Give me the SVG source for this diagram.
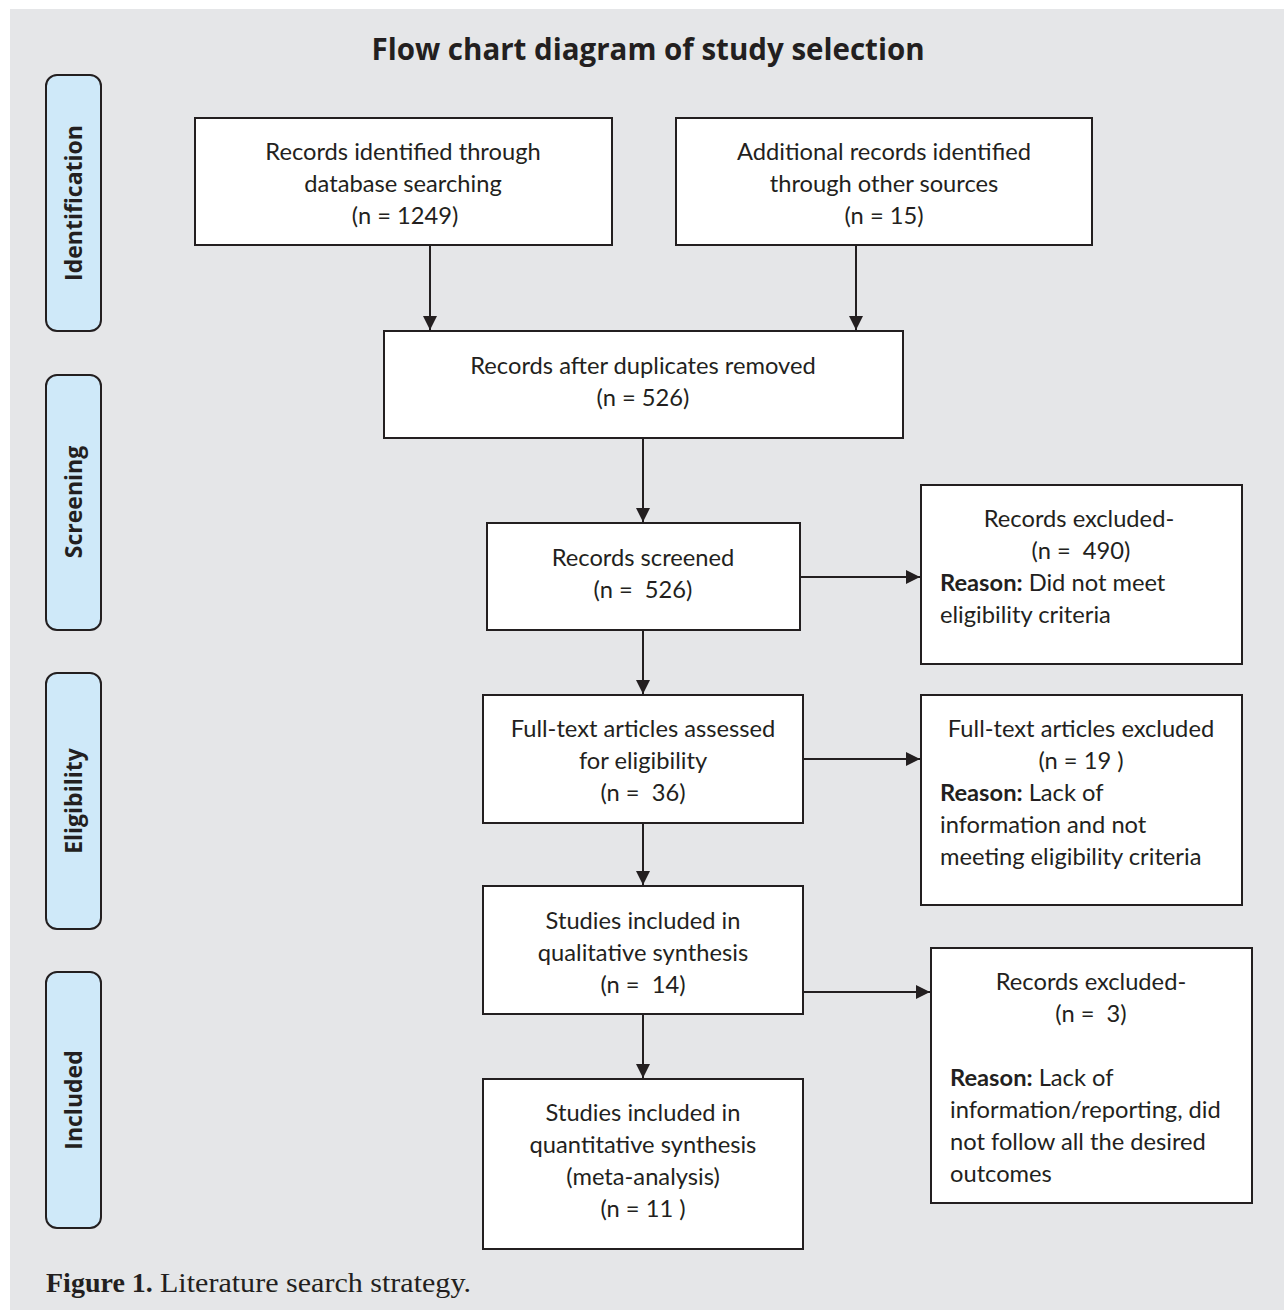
<svg xmlns="http://www.w3.org/2000/svg" width="1284" height="1310" viewBox="0 0 1284 1310">
<defs>
<style>
.box{fill:#ffffff;stroke:#231f20;stroke-width:2}
.side{fill:#cfe9f9;stroke:#231f20;stroke-width:2}
.t{font-family:Lato,"Open Sans","Liberation Sans",sans-serif;font-size:23.7px;fill:#231f20;white-space:pre}
.c{text-anchor:middle}
.b{font-weight:bold}
.st{font-family:"Open Sans",Lato,"Liberation Sans",sans-serif;font-size:23px;font-weight:bold;fill:#231f20;text-anchor:middle}
.title{font-family:"Open Sans",Lato,"Liberation Sans",sans-serif;font-size:29.5px;font-weight:bold;fill:#231f20;text-anchor:middle}
.cap{font-family:"Liberation Serif","Times New Roman",serif;font-size:28px;fill:#231f20}
.conn line{stroke:#231f20;stroke-width:2;marker-end:url(#ah)}
</style>
<marker id="ah" viewBox="0 0 10 10" refX="10" refY="5" markerWidth="7" markerHeight="7" orient="auto" markerUnits="strokeWidth">
<path d="M0,0 L10,5 L0,10 z" fill="#231f20"/>
</marker>
</defs>
<rect x="0" y="0" width="1284" height="1310" fill="#ffffff"/>
<rect x="10" y="9" width="1274" height="1301" fill="#e5e6e8"/>
<text class="title" x="648" y="60">Flow chart diagram of study selection</text>

<g id="side-identification"><rect class="side" x="46" y="75" width="55" height="256" rx="11"/><text class="st" transform="translate(82,203) rotate(-90)">Identification</text></g>
<g id="side-screening"><rect class="side" x="46" y="375" width="55" height="255" rx="11"/><text class="st" transform="translate(82,502) rotate(-90)">Screening</text></g>
<g id="side-eligibility"><rect class="side" x="46" y="673" width="55" height="256" rx="11"/><text class="st" transform="translate(82,801) rotate(-90)">Eligibility</text></g>
<g id="side-included"><rect class="side" x="46" y="972" width="55" height="256" rx="11"/><text class="st" transform="translate(82,1100) rotate(-90)">Included</text></g>

<g id="n-database"><rect class="box" x="195" y="118" width="417" height="127"/>
<text class="t c" x="403" y="160">Records identified through</text>
<text class="t c" x="403" y="192">database searching</text>
<text class="t c" x="405" y="224">(n = 1249)</text></g>

<g id="n-other"><rect class="box" x="676" y="118" width="416" height="127"/>
<text class="t c" x="884" y="160">Additional records identified</text>
<text class="t c" x="884" y="192">through other sources</text>
<text class="t c" x="884" y="224">(n = 15)</text></g>

<g id="n-dedup"><rect class="box" x="384" y="331" width="519" height="107"/>
<text class="t c" x="643" y="374">Records after duplicates removed</text>
<text class="t c" x="643" y="406">(n = 526)</text></g>

<g id="n-screened"><rect class="box" x="487" y="523" width="313" height="107"/>
<text class="t c" x="643" y="566">Records screened</text>
<text class="t c" x="643" y="598">(n =  526)</text></g>

<g id="n-excl1"><rect class="box" x="921" y="485" width="321" height="179"/>
<text class="t c" x="1079" y="527">Records excluded-</text>
<text class="t c" x="1081" y="559">(n =  490)</text>
<text class="t" x="940" y="591"><tspan class="b">Reason:</tspan> Did not meet</text>
<text class="t" x="940" y="623">eligibility criteria</text></g>

<g id="n-fulltext"><rect class="box" x="483" y="695" width="320" height="128"/>
<text class="t c" x="643" y="737">Full-text articles assessed</text>
<text class="t c" x="643" y="769">for eligibility</text>
<text class="t c" x="643" y="801">(n =  36)</text></g>

<g id="n-excl2"><rect class="box" x="921" y="695" width="321" height="210"/>
<text class="t c" x="1081" y="737">Full-text articles excluded</text>
<text class="t c" x="1081" y="769">(n = 19 )</text>
<text class="t" x="940" y="801"><tspan class="b">Reason:</tspan> Lack of</text>
<text class="t" x="940" y="833">information and not</text>
<text class="t" x="940" y="865">meeting eligibility criteria</text></g>

<g id="n-qual"><rect class="box" x="483" y="886" width="320" height="128"/>
<text class="t c" x="643" y="929">Studies included in</text>
<text class="t c" x="643" y="961">qualitative synthesis</text>
<text class="t c" x="643" y="993">(n =  14)</text></g>

<g id="n-excl3"><rect class="box" x="931" y="948" width="321" height="255"/>
<text class="t c" x="1091" y="990">Records excluded-</text>
<text class="t c" x="1091" y="1022">(n =  3)</text>
<text class="t" x="950" y="1086"><tspan class="b">Reason:</tspan> Lack of</text>
<text class="t" x="950" y="1118">information/reporting, did</text>
<text class="t" x="950" y="1150">not follow all the desired</text>
<text class="t" x="950" y="1182">outcomes</text></g>

<g id="n-quant"><rect class="box" x="483" y="1079" width="320" height="170"/>
<text class="t c" x="643" y="1121">Studies included in</text>
<text class="t c" x="643" y="1153">quantitative synthesis</text>
<text class="t c" x="643" y="1185">(meta-analysis)</text>
<text class="t c" x="643" y="1217">(n = 11 )</text></g>

<g id="connectors" class="conn">
<line x1="430" y1="245" x2="430" y2="330"/>
<line x1="856" y1="245" x2="856" y2="330"/>
<line x1="643" y1="438" x2="643" y2="522"/>
<line x1="800" y1="577" x2="920" y2="577"/>
<line x1="643" y1="630" x2="643" y2="694"/>
<line x1="803" y1="759" x2="920" y2="759"/>
<line x1="643" y1="823" x2="643" y2="885"/>
<line x1="803" y1="992" x2="930" y2="992"/>
<line x1="643" y1="1014" x2="643" y2="1078"/>
</g>

<text class="cap" x="46" y="1292" font-weight="bold">Figure 1.</text>
<text class="cap" x="160" y="1292" textLength="311" lengthAdjust="spacingAndGlyphs">Literature search strategy.</text>
</svg>
